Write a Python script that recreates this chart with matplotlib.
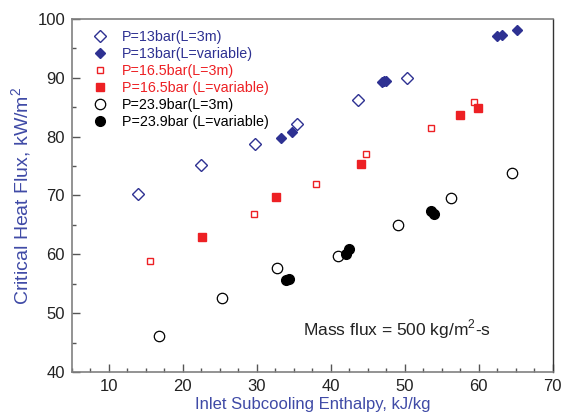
import matplotlib
matplotlib.use('Agg')
import matplotlib.pyplot as plt
from matplotlib.ticker import MultipleLocator

plt.rcParams['font.family'] = ['Liberation Sans', 'DejaVu Sans']
plt.rcParams['mathtext.fontset'] = 'custom'
plt.rcParams['mathtext.rm'] = 'Liberation Sans'

BLUE = '#2e3192'
RED = '#ed2024'
LABEL_BLUE = '#3f4aa6'

# P=13bar, L=3m (open diamonds)
x13_3m = [13.9, 22.5, 29.8, 35.4, 43.7, 50.3]
y13_3m = [70.2, 75.1, 78.8, 82.1, 86.3, 90.0]
# P=13bar, L=variable (filled diamonds)
x13_var = [33.3, 34.8, 46.9, 47.2, 47.4, 62.4, 63.1, 65.2]
y13_var = [79.8, 80.7, 89.2, 89.4, 89.5, 97.1, 97.2, 98.1]
# P=16.5bar, L=3m (open squares)
x165_3m = [15.5, 29.6, 38.0, 44.8, 53.5, 59.4]
y165_3m = [58.9, 66.9, 72.0, 77.1, 81.4, 85.8]
# P=16.5bar, L=variable (filled squares)
x165_var = [22.6, 32.6, 44.1, 57.4, 59.9]
y165_var = [63.0, 69.8, 75.4, 83.6, 84.9]
# P=23.9bar, L=3m (open circles)
x239_3m = [16.8, 25.3, 32.7, 41.0, 49.1, 56.2, 64.5]
y239_3m = [46.1, 52.6, 57.7, 59.8, 64.9, 69.5, 73.9]
# P=23.9bar, L=variable (filled circles)
x239_var = [33.9, 34.4, 42.0, 42.5, 53.6, 53.9]
y239_var = [55.6, 55.8, 60.0, 60.9, 67.3, 66.9]

fig = plt.figure(figsize=(5.71, 4.19), dpi=100)
ax = fig.add_axes([0.126, 0.112, 0.842, 0.843])

ax.plot(x13_3m, y13_3m, 'D', ms=6.5, mfc='white', mec=BLUE, mew=1.0, ls='none', label='P=13bar(L=3m)')
ax.plot(x13_var, y13_var, 'D', ms=5.5, mfc=BLUE, mec=BLUE, ls='none', label='P=13bar(L=variable)')
ax.plot(x165_3m, y165_3m, 's', ms=5.0, mfc='white', mec=RED, mew=1.0, ls='none', label='P=16.5bar(L=3m)')
ax.plot(x165_var, y165_var, 's', ms=5.5, mfc=RED, mec=RED, ls='none', label='P=16.5bar (L=variable)')
ax.plot(x239_3m, y239_3m, 'o', ms=7.5, mfc='white', mec='black', mew=0.9, ls='none', label='P=23.9bar(L=3m)')
ax.plot(x239_var, y239_var, 'o', ms=7.0, mfc='black', mec='black', ls='none', label='P=23.9bar (L=variable)')

ax.set_xlim(5, 70)
ax.set_ylim(40, 100)
ax.xaxis.set_major_locator(MultipleLocator(10))
ax.xaxis.set_minor_locator(MultipleLocator(2.5))
ax.yaxis.set_major_locator(MultipleLocator(10))
ax.yaxis.set_minor_locator(MultipleLocator(5))
ax.tick_params(which='both', direction='in', top=False, right=False, color='#555555', width=1.0)
ax.tick_params(which='major', length=6, labelsize=12, pad=5, labelcolor='#222222')
ax.tick_params(which='minor', length=3)

for side in ['left', 'top', 'bottom']:
    ax.spines[side].set_color('#808080')
    ax.spines[side].set_linewidth(1.2)
ax.spines['right'].set_color('#333333')
ax.spines['right'].set_linewidth(1.0)

ax.set_xlabel('Inlet Subcooling Enthalpy, kJ/kg', fontsize=12, color=LABEL_BLUE, labelpad=2)
ax.set_ylabel('Critical Heat Flux, kW/m$^2$', fontsize=14, color=LABEL_BLUE, labelpad=1)
ax.yaxis.set_label_coords(-0.078, 0.5)

ax.text(36.2, 47.3, 'Mass flux = 500 kg/m$^2$-s', fontsize=12.5, color='#222222', va='center', ha='left')

leg = ax.legend(loc='upper left', bbox_to_anchor=(0.013, 1.0), frameon=False, fontsize=10.3,
                handletextpad=0.75, labelspacing=0.2, borderaxespad=0.4, handlelength=1.5)
text_colors = [BLUE, BLUE, RED, RED, 'black', 'black']
for t, c in zip(leg.get_texts(), text_colors):
    t.set_color(c)

fig.savefig('out.png', dpi=100)
